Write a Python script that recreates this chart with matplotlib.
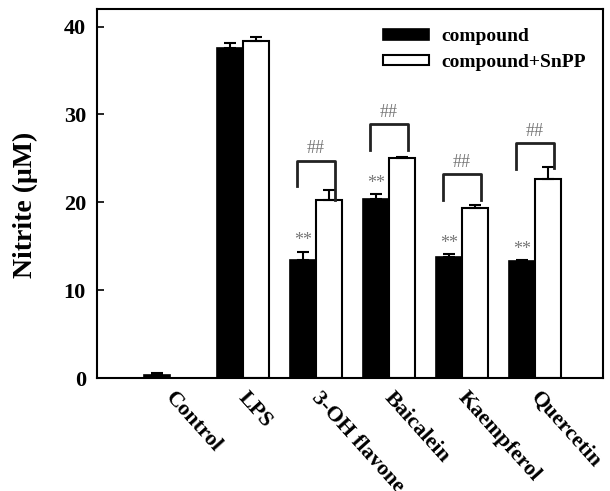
import numpy as np
import matplotlib.pyplot as plt
import matplotlib.transforms as mtransforms

# data
labels = ["Control", "LPS", "3-OH flavone", "Baicalein", "Kaempferol", "Quercetin"]
compound = [0.4, 37.6, 13.4, 20.4, 13.8, 13.3]
compound_err = [0.2, 0.5, 1.0, 0.5, 0.3, 0.1]
snpp = [np.nan, 38.3, 20.3, 25.0, 19.4, 22.7]
snpp_err = [np.nan, 0.5, 1.1, 0.15, 0.3, 1.3]
star_groups = [2, 3, 4, 5]
bracket_top = [24.7, 28.9, 23.2, 26.7]
bracket_left = [21.9, 25.9, 20.3, 23.8]
bracket_right = [20.3, 25.9, 20.3, 23.9]

plt.rcParams['font.family'] = ['Liberation Serif', 'DejaVu Serif']
plt.rcParams['font.weight'] = 'bold'

fig = plt.figure(figsize=(6.1, 4.91), dpi=100)
ax = fig.add_axes([0.159, 0.23, 0.8295, 0.7517])

x = np.arange(len(labels))
w = 0.36

ax.bar(x - w/2, compound, w, color='black', edgecolor='black', linewidth=1.2, label='compound', zorder=2)
ax.bar(x + w/2, snpp, w, color='white', edgecolor='black', linewidth=1.5, label='compound+SnPP', zorder=2)

ax.errorbar(x - w/2, compound, yerr=[np.zeros(len(x)), compound_err], fmt='none',
            ecolor='black', elinewidth=1.5, capsize=4, capthick=1.5, zorder=3)
ax.errorbar(x + w/2, snpp, yerr=[np.zeros(len(x)), snpp_err], fmt='none',
            ecolor='black', elinewidth=1.5, capsize=4, capthick=1.5, zorder=3)

# significance marks
for i in star_groups:
    ax.text(x[i] - w/2, compound[i] + compound_err[i] + 0.3, "**", ha='center', va='bottom',
            fontsize=13, color='#777777', fontweight='normal')

for k, i in enumerate(star_groups):
    xl = x[i] - w/2 - 0.08
    xr = x[i] + w/2 + 0.08
    ax.plot([xl, xl, xr, xr], [bracket_left[k], bracket_top[k], bracket_top[k], bracket_right[k]],
            color='#222222', linewidth=2, zorder=3)
    ax.text(x[i], bracket_top[k] + 0.4, "##", ha='center', va='bottom', fontsize=13,
            color='#777777', fontweight='normal')

ax.set_xlim(-1.0, 5.93)
ax.set_ylim(0, 42)
ax.set_yticks([0, 10, 20, 30, 40])
ax.tick_params(axis='y', direction='in', length=5, width=1.2, labelsize=16, pad=8)
ax.set_xticks(x)
ax.set_xticklabels(labels, rotation=-48, ha='left', va='top', rotation_mode='anchor', fontsize=16)
ax.tick_params(axis='x', length=0, pad=7)
shift = mtransforms.ScaledTranslation(6/100, 0, fig.dpi_scale_trans)
for t in ax.get_xticklabels():
    t.set_transform(t.get_transform() + shift)
for s in ax.spines.values():
    s.set_linewidth(1.5)

ax.set_ylabel("Nitrite (\u03bcM)", fontsize=20, fontweight='bold', labelpad=14)
ax.yaxis.set_label_coords(-0.117, 0.47)

ax.legend(loc='upper right', frameon=False, prop={'size': 14, 'weight': 'bold'},
          bbox_to_anchor=(1.0, 0.995), handlelength=2.4, handleheight=0.45,
          labelspacing=0.45, handletextpad=0.6)

fig.savefig("out.png", dpi=100)
